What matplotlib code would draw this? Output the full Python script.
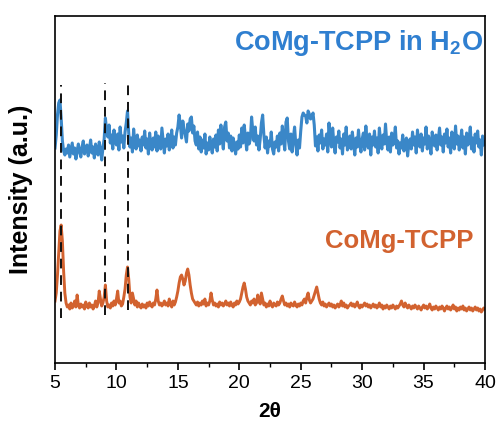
import numpy as np
import matplotlib
matplotlib.use('Agg')
import matplotlib.pyplot as plt
from matplotlib.ticker import MultipleLocator, NullLocator

plt.rcParams['font.family'] = ['Liberation Sans', 'DejaVu Sans']

# 2-theta grid, 0.1 deg step
two_theta = np.round(np.arange(5.0, 40.05, 0.1), 2)

# CoMg-TCPP in H2O (offset, arbitrary units)
water = [
    215, 228, 248, 260, 263, 245, 222, 212, 208, 214,
    210, 218, 206, 213, 220, 209, 215, 204, 212, 219,
    211, 206, 216, 222, 209, 213, 218, 207, 214, 223,
    210, 216, 205, 219, 212, 208, 221, 214, 203, 215,
    224, 245, 232, 226, 238, 220, 228, 214, 233, 222,
    218, 229, 213, 236, 221, 227, 215, 231, 240, 252,
    230, 216, 225, 211, 234, 220, 214, 228, 217, 223,
    212, 226, 218, 232, 215, 224, 209, 230, 219, 213,
    225, 216, 231, 212, 227, 220, 214, 235, 222, 210,
    224, 217, 229, 213, 221, 233, 215, 226, 218, 230,
    236, 248, 238, 225, 242, 234, 228, 221, 239, 232,
    244, 246, 230, 237, 222, 218, 231, 214, 226, 211,
    223, 215, 229, 209, 220, 213, 226, 217, 210, 224,
    216, 228, 212, 233, 219, 238, 224, 214, 236, 241,
    222, 230, 215, 227, 212, 225, 218, 209, 221, 214,
    228, 216, 235, 220, 238, 226, 213, 230, 219, 224,
    246, 232, 222, 236, 218, 227, 213, 224, 240, 248,
    228, 215, 226, 210, 222, 217, 231, 214, 209, 221,
    216, 227, 212, 230, 219, 237, 224, 213, 241, 245,
    222, 214, 229, 211, 225, 236, 218, 208, 223, 215,
    232, 246, 250, 248, 247, 240, 252, 249, 244, 246,
    250, 238, 217, 226, 212, 228, 220, 233, 214, 224,
    218, 229, 211, 240, 224, 216, 235, 219, 210, 226,
    221, 232, 215, 224, 209, 229, 218, 236, 213, 222,
    227, 214, 231, 220, 208, 225, 216, 233, 219, 211,
    224, 230, 213, 237, 221, 215, 229, 208, 226, 218,
    232, 216, 225, 210, 235, 222, 214, 228, 219, 239,
    221, 213, 226, 211, 230, 218, 224, 236, 215, 222,
    209, 220, 215, 228, 212, 218, 225, 207, 219, 224,
    214, 231, 218, 226, 210, 233, 221, 216, 229, 212,
    225, 219, 236, 214, 227, 220, 209, 231, 223, 217,
    228, 213, 224, 235, 218, 226, 211, 229, 220, 234,
    216, 225, 210, 231, 222, 214, 237, 219, 227, 213,
    221, 233, 215, 226, 209, 230, 218, 224, 236, 214,
    225, 211, 229, 220, 232, 216, 223, 208, 227, 218,
    221,
]

# as-synthesised CoMg-TCPP
pristine = [
    62, 70, 88, 110, 132, 138, 122, 92, 70, 60,
    56, 58, 54, 60, 55, 57, 62, 56, 68, 58,
    55, 59, 56, 58, 54, 61, 57, 55, 60, 56,
    58, 54, 57, 62, 56, 60, 72, 64, 57, 60,
    66, 78, 62, 56, 58, 55, 60, 57, 62, 58,
    64, 72, 60, 62, 57, 59, 66, 74, 88, 96,
    84, 66, 60, 70, 64, 58, 62, 56, 60, 57,
    55, 59, 56, 58, 55, 60, 57, 61, 58, 56,
    60, 58, 64, 73, 62, 58, 60, 57, 59, 62,
    58, 60, 57, 64, 59, 56, 62, 58, 61, 66,
    72, 80, 86, 88, 84, 78, 82, 90, 94, 88,
    78, 70, 64, 62, 60, 58, 61, 57, 60, 58,
    62, 59, 64, 57, 60, 58, 62, 70, 63, 58,
    60, 57, 59, 56, 61, 58, 60, 57, 59, 62,
    58, 60, 57, 61, 58, 56, 60, 58, 62, 59,
    61, 64, 70, 76, 80, 74, 66, 62, 60, 58,
    62, 60, 64, 58, 60, 68, 62, 59, 70, 64,
    58, 60, 56, 59, 57, 62, 58, 56, 60, 58,
    57, 61, 58, 60, 64, 67, 62, 58, 60, 57,
    59, 56, 60, 58, 57, 61, 58, 56, 59, 57,
    60, 58, 62, 64, 60, 66, 70, 63, 60, 62,
    64, 68, 72, 76, 70, 64, 60, 58, 61, 57,
    59, 56, 58, 60, 57, 59, 56, 58, 55, 57,
    59, 56, 58, 62, 57, 60, 56, 58, 55, 57,
    58, 60, 57, 59, 56, 58, 61, 57, 55, 58,
    56, 58, 60, 57, 59, 56, 58, 55, 57, 59,
    56, 58, 55, 57, 60, 56, 58, 54, 57, 55,
    58, 56, 54, 57, 55, 58, 56, 54, 57, 55,
    57, 59, 62, 58, 56, 60, 57, 55, 58, 56,
    54, 57, 55, 58, 56, 54, 57, 55, 53, 56,
    58, 55, 57, 54, 56, 59, 55, 53, 56, 54,
    57, 55, 53, 56, 54, 57, 55, 52, 55, 57,
    54, 56, 53, 55, 58, 54, 56, 52, 55, 53,
    56, 54, 57, 53, 55, 52, 54, 56, 53, 55,
    52, 54, 56, 53, 55, 52, 54, 51, 53, 55,
    54,
]

# reference peak positions marked with dashed lines
ref_peaks = [5.5, 9.1, 10.9]
ref_low = [45, 48, 53]
ref_high = [278, 280, 282]

blue = '#3a87c8'
orange = '#d2622f'

fig = plt.figure(figsize=(4.97, 4.30), dpi=100)
ax = fig.add_axes([0.1107, 0.1558, 0.8652, 0.8070])

ax.plot(two_theta, water, color=blue, lw=2.2)
ax.plot(two_theta, pristine, color=orange, lw=2.1)

for x, lo, hi in zip(ref_peaks, ref_low, ref_high):
    ax.vlines(x, lo, hi, colors='#111111', linestyles=(0, (5, 3.5)), lw=1.4, zorder=3)

ax.text(39.8, 320, 'CoMg-TCPP in H$_\\mathregular{2}$O', color='#2f7fd0', fontsize=19.5,
        fontweight='bold', ha='right', va='center')
ax.text(39.1, 122, 'CoMg-TCPP', color=orange, fontsize=18.5,
        fontweight='bold', ha='right', va='center')

ax.set_xlim(5, 40)
ax.set_ylim(0, 347)
ax.xaxis.set_major_locator(MultipleLocator(5))
ax.xaxis.set_minor_locator(MultipleLocator(2.5))
ax.yaxis.set_major_locator(NullLocator())
ax.tick_params(axis='x', which='major', direction='out', length=5, width=1.2, labelsize=14)
ax.tick_params(axis='x', which='minor', direction='out', length=3, width=1.0)
for spine in ax.spines.values():
    spine.set_linewidth(1.2)

ax.set_xlabel('2θ', fontsize=15, fontweight='bold', labelpad=7)
ax.set_ylabel('Intensity (a.u.)', fontsize=18, fontweight='bold', labelpad=16)

fig.savefig('out.png', dpi=100)
